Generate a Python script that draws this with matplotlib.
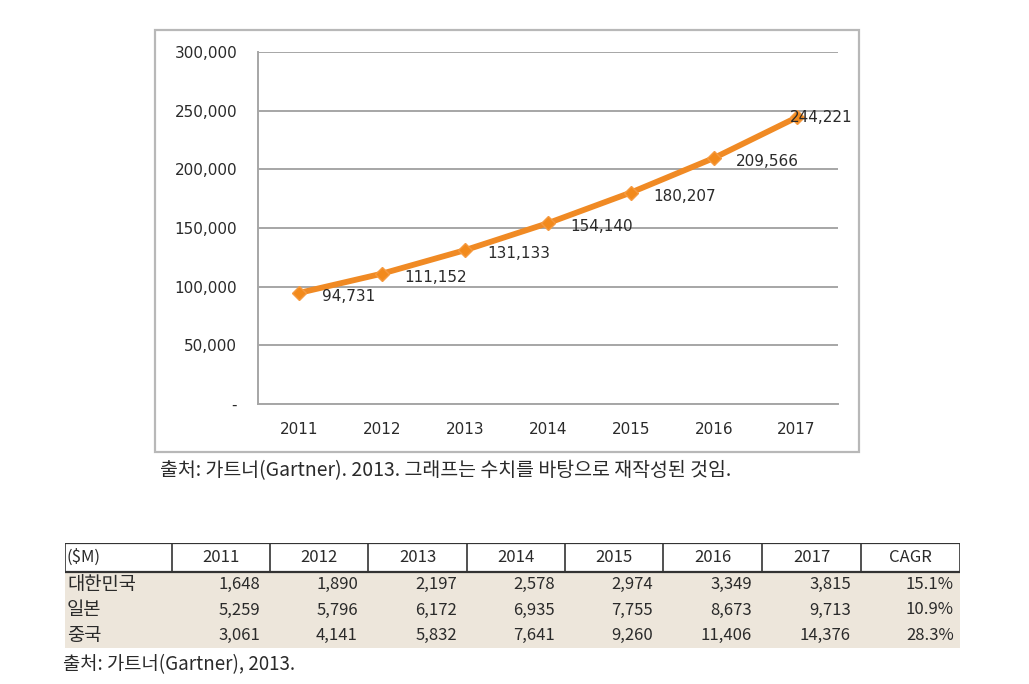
import matplotlib
matplotlib.use('Agg')
import matplotlib.pyplot as plt
from matplotlib.patches import Rectangle

plt.rcParams['font.family'] = ['Noto Sans CJK KR', 'DejaVu Sans']

# chart data
years = ['2011', '2012', '2013', '2014', '2015', '2016', '2017']
totals = [94731, 111152, 131133, 154140, 180207, 209566, 244221]
yticks = [0, 50000, 100000, 150000, 200000, 250000, 300000]
ytick_labels = ['-', '50,000', '100,000', '150,000', '200,000', '250,000', '300,000']
chart_note = '출처: 가트너(Gartner). 2013. 그래프는 수치를 바탕으로 재작성된 것임.'

# table data
table_header = ['($M)', '2011', '2012', '2013', '2014', '2015', '2016', '2017', 'CAGR']
countries = ['대한민국', '일본', '중국']
korea = [1648, 1890, 2197, 2578, 2974, 3349, 3815]
japan = [5259, 5796, 6172, 6935, 7755, 8673, 9713]
china = [3061, 4141, 5832, 7641, 9260, 11406, 14376]
cagr = ['15.1%', '10.9%', '28.3%']
table_note = '출처: 가트너(Gartner), 2013.'

W, H = 1029, 684
fig = plt.figure(figsize=(W / 100, H / 100), dpi=100)
txt = '#2a2a2a'
chart_font = ['DejaVu Sans']


def fx(px):
    return px / W


def fy(py):
    return 1 - py / H


# outer frame of the chart
fig.patches.append(Rectangle((fx(155), fy(452)), fx(859) - fx(155), fy(30) - fy(452),
                             transform=fig.transFigure, fill=False,
                             edgecolor='#b8b8b8', lw=1.6))

ax = fig.add_axes([fx(258), fy(404), fx(838) - fx(258), fy(52) - fy(404)])
xs = range(len(years))
ax.plot(xs, totals, color='#f08a24', lw=4.2, marker='D', markersize=7.5,
        markerfacecolor='#f28a1c', markeredgecolor='#f59a40', solid_capstyle='round')
for i, v in enumerate(totals):
    if i == len(totals) - 1:
        off = (-5, 0)
    else:
        off = (16, -2.5)
    ax.annotate('{:,}'.format(v), (i, v), xytext=off, textcoords='offset points',
                ha='left', va='center', fontsize=11, color=txt, family=chart_font)

ax.set_xlim(-0.5, len(years) - 0.5)
ax.set_ylim(0, 300000)
ax.set_yticks(yticks)
ax.set_yticklabels(ytick_labels, family=chart_font)
ax.set_xticks(list(xs))
ax.set_xticklabels(years, family=chart_font)
ax.tick_params(length=0, labelsize=11, labelcolor=txt)
ax.tick_params(axis='y', pad=15)
ax.tick_params(axis='x', pad=13)
ax.grid(axis='y', color='#a6a6a6', lw=1.4)
ax.set_axisbelow(True)
for s in ['top', 'right']:
    ax.spines[s].set_visible(False)
for s in ['left', 'bottom']:
    ax.spines[s].set_color('#a6a6a6')
    ax.spines[s].set_linewidth(1.4)

fig.text(fx(160), fy(471), chart_note, fontsize=14, color=txt, va='center', ha='left')

# table drawn in its own axes (x: column widths, y: row heights)
col_edges = [0, 107, 205, 303, 402, 500, 598, 697, 796, 895]
row_edges = [0, 29, 54.3, 79.7, 105]
tax = fig.add_axes([fx(65), fy(648), fx(960) - fx(65), fy(543) - fy(648)])
tax.set_xlim(0, col_edges[-1])
tax.set_ylim(row_edges[-1], 0)
tax.axis('off')

rows = [korea, japan, china]
tax.add_patch(Rectangle((0, row_edges[1]), col_edges[-1], row_edges[-1] - row_edges[1],
                        facecolor='#ede6db', edgecolor='none'))
tax.plot([0, col_edges[-1]], [row_edges[0]] * 2, color='#333333', lw=1.6)
tax.plot([0, col_edges[-1]], [row_edges[1]] * 2, color='#333333', lw=1.6)
for e in col_edges:
    tax.plot([e, e], row_edges[:2], color='#333333', lw=1.2)

hy = (row_edges[0] + row_edges[1]) / 2
for j, h in enumerate(table_header):
    if j == 0:
        tax.text(col_edges[0] + 2, hy, h, ha='left', va='center', fontsize=12, color=txt)
    else:
        tax.text((col_edges[j] + col_edges[j + 1]) / 2, hy, h, ha='center', va='center',
                 fontsize=12, color=txt)

for r, (name, vals) in enumerate(zip(countries, rows)):
    y = (row_edges[r + 1] + row_edges[r + 2]) / 2
    tax.text(col_edges[0] + 2, y, name, ha='left', va='center', fontsize=13.5, color=txt)
    for j, v in enumerate(vals):
        tax.text(col_edges[j + 2] - 10, y, '{:,}'.format(v), ha='right', va='center',
                 fontsize=12, color=txt)
    tax.text(col_edges[-1] - 6, y, cagr[r], ha='right', va='center', fontsize=12, color=txt)

fig.text(fx(63), fy(665), table_note, fontsize=13.5, color=txt, va='center', ha='left')

fig.savefig('out.png', dpi=100)
